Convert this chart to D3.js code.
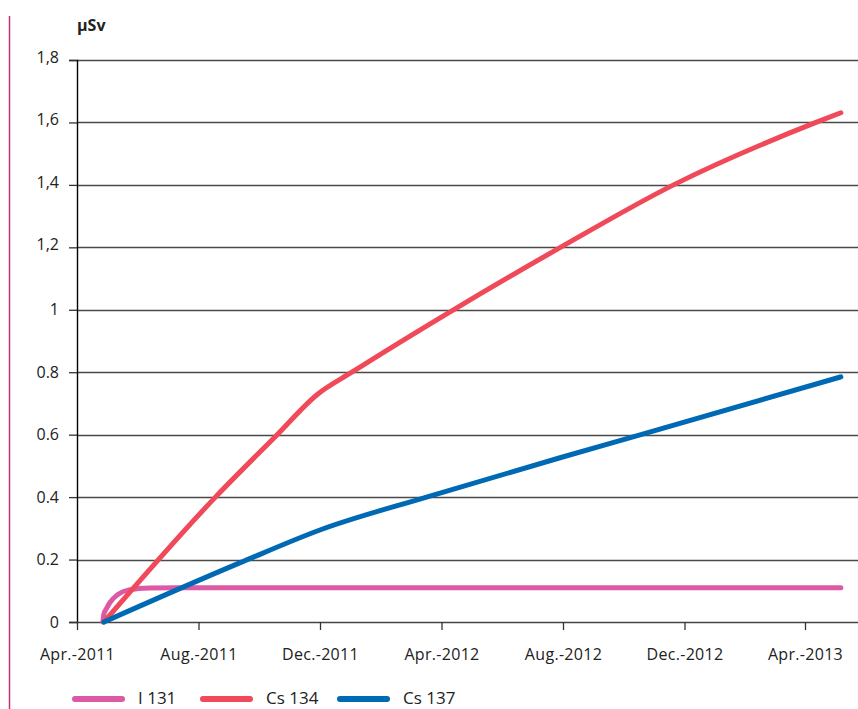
<!DOCTYPE html>
<html><head><meta charset="utf-8">
<script src="https://cdn.jsdelivr.net/npm/d3@7"></script>
<style>
html,body{margin:0;padding:0;background:#fff;overflow:hidden;}
svg{display:block;font-family:"Open Sans",sans-serif;}
</style></head>
<body>
<svg id="chart" width="858" height="709"></svg>
<script>
const yTickValues = [0, 0.2, 0.4, 0.6, 0.8, 1, 1.2, 1.4, 1.6, 1.8];
const yTickLabels = ["0", "0.2", "0.4", "0.6", "0.8", "1", "1,2", "1,4", "1,6", "1,8"];
const xTickDates = ["2011-04-01", "2011-08-01", "2011-12-01", "2012-04-01", "2012-08-01", "2012-12-01", "2013-04-01"];
const xTickLabels = ["Apr.-2011", "Aug.-2011", "Dec.-2011", "Apr.-2012", "Aug.-2012", "Dec.-2012", "Apr.-2013"];
const unitLabel = "μSv";
const seriesNames = ["I 131", "Cs 134", "Cs 137"];
const seriesColors = ["#dc5aa5", "#f04a5a", "#0069b4"];

const i131Dates = ["2011-04-27", "2011-04-28", "2011-05-01", "2011-05-04", "2011-05-12", "2011-05-23", "2011-06-13", "2011-07-10", "2013-05-07"];
const i131Values = [0, 0.025, 0.045, 0.062, 0.088, 0.103, 0.109, 0.11, 0.11];

const cs134Dates = ["2011-04-28", "2011-08-18", "2011-10-19", "2011-11-28", "2012-01-02", "2012-04-13", "2012-07-29", "2012-11-20", "2013-04-12", "2013-05-07"];
const cs134Values = [0, 0.4, 0.6, 0.728, 0.8, 1.0, 1.199, 1.4, 1.6, 1.631];

const cs137Dates = ["2011-04-28", "2011-09-12", "2011-12-03", "2012-03-17", "2012-07-29", "2012-10-20", "2013-05-07"];
const cs137Values = [0, 0.19, 0.297, 0.40, 0.526, 0.602, 0.785];

(function(){
const parse = d3.utcParse("%Y-%m-%d");
const series = [
  {name: seriesNames[0], color: seriesColors[0], pts: i131Dates.map((d,i)=>({d:parse(d), v:i131Values[i]}))},
  {name: seriesNames[1], color: seriesColors[1], pts: cs134Dates.map((d,i)=>({d:parse(d), v:cs134Values[i]}))},
  {name: seriesNames[2], color: seriesColors[2], pts: cs137Dates.map((d,i)=>({d:parse(d), v:cs137Values[i]}))}
];

const svg = d3.select("#chart");
const mLeft = 77, mRight = 858, mTop = 60, mBottom = 622;

const x = d3.scaleUtc().domain([parse(xTickDates[0]), parse(xTickDates[xTickDates.length-1])]).range([77, 805]);
const y = d3.scaleLinear().domain([0, 1.8]).range([mBottom, mTop]);

svg.append("line").attr("x1", 9.5).attr("x2", 9.5).attr("y1", 16).attr("y2", 709)
  .attr("stroke", "#c0307f").attr("stroke-width", 1.5);

svg.append("g").selectAll("line").data(yTickValues.slice(1)).join("line")
  .attr("x1", mLeft).attr("x2", mRight)
  .attr("y1", d => Math.round(y(d)) + 0.5).attr("y2", d => Math.round(y(d)) + 0.5)
  .attr("stroke", "#4a4a4a").attr("stroke-width", 1.3);

const yAxis = d3.axisLeft(y).tickValues(yTickValues).tickSize(8).tickPadding(10)
  .tickFormat((d,i) => yTickLabels[i]);
const gy = svg.append("g").attr("transform", `translate(${mLeft},0)`).call(yAxis);
gy.select(".domain").attr("stroke", "#000").attr("stroke-width", 1.4);
gy.selectAll(".tick line").attr("stroke", "#333").attr("stroke-width", 1.3);
gy.selectAll(".tick text").attr("font-size", 16).attr("fill", "#222")
  .attr("font-family", "Open Sans, sans-serif")
  .attr("dy", (d,i) => yTickLabels[i].includes(",") ? "0.15em" : "0.32em");

const xAxis = d3.axisBottom(x).tickValues(xTickDates.map(parse)).tickSize(8).tickSizeOuter(0).tickPadding(19)
  .tickFormat((d,i) => xTickLabels[i]);
const gx = svg.append("g").attr("transform", `translate(0,${mBottom})`).call(xAxis);
gx.select(".domain").attr("d", `M${mLeft},0.5H${mRight}`).attr("stroke", "#444").attr("stroke-width", 1.5);
gx.selectAll(".tick line").attr("stroke", "#333").attr("stroke-width", 1.3);
gx.selectAll(".tick text").attr("font-size", 16).attr("fill", "#222")
  .attr("letter-spacing", "0.3px").attr("font-family", "Open Sans, sans-serif");

svg.append("text").attr("x", 77).attr("y", 31).attr("text-anchor", "start")
  .attr("font-size", 16).attr("font-weight", "bold").attr("fill", "#222").text(unitLabel);

const line = d3.line().x(p => x(p.d)).y(p => y(p.v)).curve(d3.curveMonotoneX);
svg.append("g").selectAll("path").data(series).join("path")
  .attr("d", s => line(s.pts)).attr("fill", "none")
  .attr("stroke", s => s.color).attr("stroke-width", 5)
  .attr("stroke-linecap", "round").attr("stroke-linejoin", "round");

const legendX = [72, 200, 337];
const lg = svg.append("g").selectAll("g").data(series).join("g")
  .attr("transform", (s,i) => `translate(${legendX[i]},699)`);
lg.append("line").attr("x1", 3).attr("x2", 50).attr("y1", 0).attr("y2", 0)
  .attr("stroke", s => s.color).attr("stroke-width", 6).attr("stroke-linecap", "round");
lg.append("text").attr("x", 66).attr("y", 4.5)
  .attr("font-size", 17).attr("fill", "#222").text(s => s.name);
})();
</script>
</body></html>
